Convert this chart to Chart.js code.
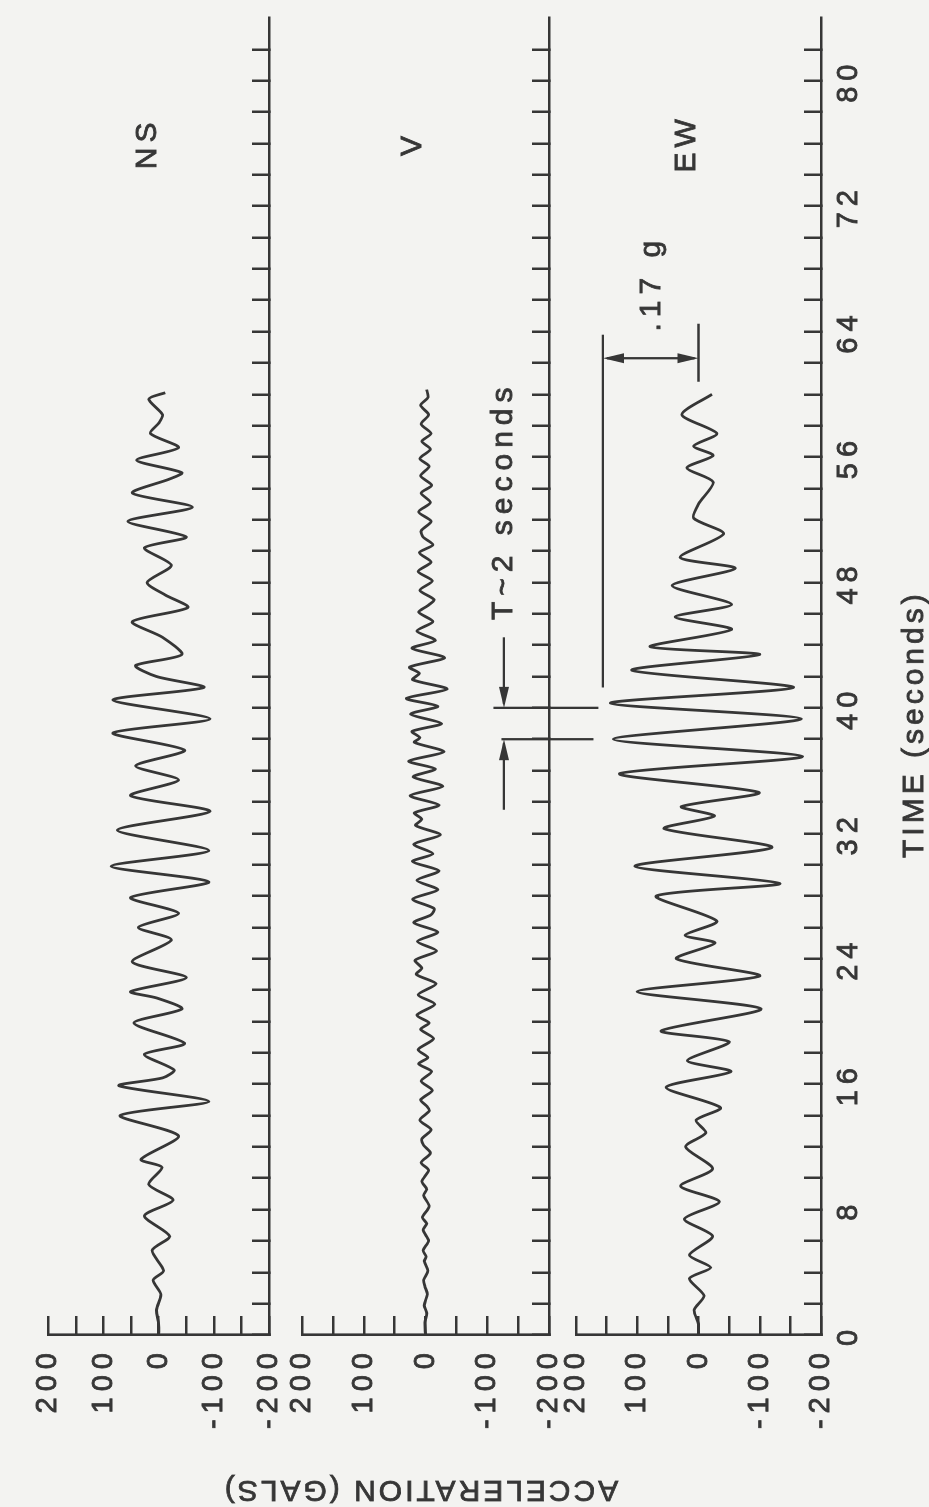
<!DOCTYPE html>
<html>
<head>
<meta charset="utf-8">
<script src="https://cdn.jsdelivr.net/npm/chart.js@4.4.1/dist/chart.umd.min.js"></script>
<style>
  html, body { margin: 0; padding: 0; width: 929px; height: 1507px; overflow: hidden; background: #f3f3f1; }
  #wrap { position: absolute; left: 0; top: 0; width: 1507px; height: 929px;
          transform-origin: 0 0; transform: translate(0, 1507px) rotate(-90deg); background: #f3f3f1; }
  #wrap canvas { position: absolute; left: 0; top: 0; }
</style>
</head>
<body>
<div id="wrap">
  <canvas id="cNS" width="1507" height="929"></canvas>
  <canvas id="cV" width="1507" height="929"></canvas>
  <canvas id="cEW" width="1507" height="929"></canvas>
</div>
<script>
// ---------------- DATA ----------------
const panelNames = ['NS', 'V', 'EW'];
const timeTickLabels = [0, 8, 16, 24, 32, 40, 48, 56, 64, 72, 80];
const accelTickLabels = [200, 100, 0, -100, -200];

const nsTime = [0.0, 0.7, 1.6, 2.6, 3.5, 4.1, 5.4, 6.3, 7.6, 8.6, 9.6, 10.7, 11.2, 12.7, 14.0, 14.9, 15.9, 16.4, 16.9, 17.9,
  18.6, 19.9, 20.8, 21.5, 21.9, 22.8, 23.8, 25.2, 26.0, 26.9, 27.9, 28.9, 29.9, 30.9, 32.2, 33.4, 34.4, 35.4, 36.3, 37.3,
  38.4, 39.3, 40.5, 41.3, 42.0, 42.7, 43.4, 44.5, 45.5, 46.4, 47.2, 48.0, 49.1, 50.2, 50.9, 51.9, 52.8, 53.7, 54.6, 55.0,
  55.8, 56.6, 57.5, 58.2, 58.7, 59.7, 60.1];
const nsAccel = [0, 0, 4, -4, 10, -9, 12, -20, 26, -26, 18, -6, 32, -36, 70, -91, 72, -7, -28, 26,
  -47, 45, -42, 4, 51, -50, 48, -23, 37, -36, 51, -91, 86, -91, 75, -93, 51, -36, 42, -47,
  83, -93, 83, -82, 4, 42, -42, -7, 48, -53, -12, 21, -23, 26, -50, 56, -61, 48, -20, -42,
  40, -36, 15, -1, -7, 18, -12];

const vTime = [0.0, 0.8, 1.4, 1.9, 2.6, 3.1, 3.5, 4.1, 4.7, 5.0, 5.4, 6.0, 6.7, 7.1, 7.5, 8.2, 8.9, 9.3, 9.8, 10.5,
  11.0, 11.6, 12.1, 12.5, 13.1, 13.7, 14.3, 14.6, 15.0, 15.6, 16.2, 16.8, 17.3, 17.7, 18.2, 18.9, 19.5, 19.9, 20.4, 21.1,
  21.7, 22.4, 23.0, 23.4, 23.9, 24.5, 25.1, 25.7, 26.3, 26.8, 27.2, 27.8, 28.4, 29.0, 29.6, 30.2, 30.7, 31.3, 31.9, 32.5,
  32.9, 33.3, 33.8, 34.4, 35.0, 35.6, 36.1, 36.6, 37.2, 37.8, 38.1, 38.5, 39.0, 39.6, 40.1, 40.6, 41.2, 41.8, 42.2, 42.6,
  43.2, 43.8, 44.3, 44.9, 45.5, 46.1, 46.5, 46.9, 47.5, 48.1, 48.7, 49.3, 49.9, 50.4, 50.9, 51.3, 51.9, 52.5, 53.1, 53.7,
  54.2, 54.8, 55.4, 55.9, 56.5, 57.0, 57.5, 58.1, 58.7, 59.3, 59.8, 60.3];
const vAccel = [0, 1, -2, 2, -3, 1, 3, -4, 2, -1, 4, -5, 4, -2, 5, -6, 3, -2, 6, -5,
  7, -8, 3, 6, -9, 9, -6, -2, 8, -11, 7, -10, 11, -4, 12, -13, 8, -6, 14, -15,
  12, -17, 15, 6, 17, -18, 13, -20, 19, -9, -14, 21, -20, 14, -22, 21, -12, 19, -24, 16,
  6, 18, -22, 25, -28, 20, -16, 27, -30, 18, 9, 22, -26, 24, -20, 31, -35, 21, 10, 26,
  -31, 22, -16, 14, -12, 11, -3, -14, 9, -11, 12, -9, 10, -12, 4, 7, -9, 11, -8, 7,
  -10, 8, -6, 9, -8, 6, -9, 7, -5, 8, -4, -2];

const ewTime = [0.0, 0.7, 1.6, 2.5, 3.6, 4.3, 5.1, 6.3, 7.4, 8.5, 9.5, 10.6, 12.0, 12.9, 13.7, 14.5, 15.8, 16.8, 17.5, 18.7,
  19.4, 20.8, 21.9, 22.9, 24.0, 25.0, 25.5, 26.4, 28.0, 28.8, 29.9, 31.1, 32.3, 33.1, 33.7, 34.6, 35.8, 36.9, 38.0, 39.3,
  40.3, 41.3, 42.4, 43.4, 43.9, 45.0, 45.8, 46.6, 47.8, 48.9, 49.6, 51.1, 52.1, 53.0, 54.4, 55.3, 56.1, 56.7, 57.5, 58.7,
  60.0];
const ewAccel = [0, 0, 7, -9, 15, -20, 15, -23, 23, -34, 29, -23, 21, -12, 4, -36, 53, -53, 18, -50,
  61, -102, 100, -100, 36, -27, 22, -30, 69, -133, 104, -120, 56, -26, 28, -99, 129, -170, 139, -168,
  144, -155, 109, -100, 79, -54, 38, -54, 43, -60, 30, -41, 8, 0, -24, 19, -24, 8, -30, 27,
  -22];

// annotation values (data units)
const periodMarks = [38, 40];     // seconds, "T~2 seconds"
const gMarkAccel = 156;           // gals, ".17 g" bracket level on EW

// ---------------- LAYOUT / STYLE ----------------
const W = 1507, H = 929;
const PLOT_LEFT = 172, PLOT_RIGHT = 1489;
const BANDS = [[23, 269], [302, 549], [576, 821]];
const Y_AXIS_W = 100, X_AXIS_H = 50;
const INK = '#363636';
const FONT = '"Liberation Sans", Arial, Helvetica, sans-serif';
const charts = {};

function txt(ctx, s, x, y, o) {
  o = o || {};
  ctx.save();
  ctx.translate(x, y);
  if (o.rot) ctx.rotate(o.rot);
  ctx.font = (o.size || 29) + 'px ' + FONT;
  try { ctx.letterSpacing = (o.ls == null ? 6 : o.ls) + 'px'; } catch (e) {}
  ctx.fillStyle = INK; ctx.strokeStyle = INK; ctx.lineWidth = 0.8;
  ctx.textAlign = o.align || 'left';
  ctx.textBaseline = 'middle';
  ctx.strokeText(s, 0, 0);
  ctx.fillText(s, 0, 0);
  ctx.restore();
}
function line(ctx, x1, y1, x2, y2, w) {
  ctx.save();
  ctx.strokeStyle = INK; ctx.lineWidth = w || 2.3;
  ctx.beginPath(); ctx.moveTo(x1, y1); ctx.lineTo(x2, y2); ctx.stroke();
  ctx.restore();
}
function head(ctx, x, y, dx, dy) {
  const L = 21, hw = 5;
  const px = -dy, py = dx;
  ctx.save();
  ctx.fillStyle = INK;
  ctx.beginPath();
  ctx.moveTo(x, y);
  ctx.lineTo(x - dx * L + px * hw, y - dy * L + py * hw);
  ctx.lineTo(x - dx * L - px * hw, y - dy * L - py * hw);
  ctx.closePath(); ctx.fill();
  ctx.restore();
}

const spacingPlugin = {
  id: 'spacing',
  beforeDraw(chart) { try { chart.ctx.letterSpacing = '6px'; } catch (e) {} }
};
const panelLabelPlugin = {
  id: 'panelLabel',
  afterDraw(chart) {
    const name = chart.options.plugins.panelLabel.name;
    const x = chart.scales.x.getPixelForValue(76);
    const y = chart.scales.y.getPixelForValue(20);
    txt(chart.ctx, name, x, y, { align: 'center', size: 30, ls: 5 });
  }
};
const annotationPlugin = {
  id: 'annot',
  afterDraw(chart) {
    const ctx = chart.ctx;
    const xs = chart.scales.x, ewY = chart.scales.y;
    const vY = charts.V.scales.y;
    // T ~ 2 seconds markers
    const x40 = xs.getPixelForValue(periodMarks[1]);
    const x38 = xs.getPixelForValue(periodMarks[0]);
    line(ctx, x40, vY.getPixelForValue(-110), x40, vY.getPixelForValue(-280));
    line(ctx, x38, vY.getPixelForValue(-123), x38, vY.getPixelForValue(-272));
    const ya = vY.getPixelForValue(-127);
    line(ctx, xs.getPixelForValue(44.5), ya, x40 + 4, ya);
    head(ctx, x40, ya, -1, 0);
    line(ctx, xs.getPixelForValue(33.5), ya, x38 - 4, ya);
    head(ctx, x38, ya, 1, 0);
    txt(ctx, 'T~2 seconds', xs.getPixelForValue(45.6), ya, { size: 30, ls: 6 });
    // .17 g bracket
    const yTop = ewY.getPixelForValue(gMarkAccel), yZero = ewY.getPixelForValue(0);
    line(ctx, xs.getPixelForValue(41.3), yTop, xs.getPixelForValue(63.8), yTop);
    line(ctx, xs.getPixelForValue(60.8), yZero, xs.getPixelForValue(64.5), yZero);
    const xb = xs.getPixelForValue(62.3);
    line(ctx, xb, yTop + 4, xb, yZero - 4);
    head(ctx, xb, yTop, 0, -1);
    head(ctx, xb, yZero, 0, 1);
    txt(ctx, '.17 g', xs.getPixelForValue(64.0), ewY.getPixelForValue(76), { size: 30, ls: 6 });
    // axis titles
    txt(ctx, 'TIME (seconds)', 649, 915, { size: 30, ls: 4 });
    txt(ctx, 'ACCELERATION (GALS)', 18, 420, { size: 30, ls: 3, align: 'center', rot: -Math.PI / 2 });
  }
};

function makeChart(id, idx, times, accel, showTimeLabels, extra) {
  const top = BANDS[idx][0], bottom = BANDS[idx][1];
  return new Chart(document.getElementById(id), {
    type: 'line',
    data: {
      datasets: [{
        data: times.map((t, i) => ({ x: t, y: accel[i] })),
        borderColor: INK, borderWidth: 2.8, pointRadius: 0, tension: 0.25, fill: false
      }]
    },
    options: {
      responsive: false, animation: false, devicePixelRatio: 1, events: [],
      layout: { padding: { left: PLOT_LEFT - Y_AXIS_W, right: W - PLOT_RIGHT, top: top, bottom: H - bottom - X_AXIS_H } },
      plugins: { legend: { display: false }, tooltip: { enabled: false }, title: { display: false },
                 panelLabel: { name: panelNames[idx] } },
      scales: {
        x: {
          type: 'linear', min: 0, max: 84,
          afterBuildTicks: s => { s.ticks = s.ticks.filter(t => t.value <= 82); },
          afterFit: s => { s.height = X_AXIS_H; },
          ticks: { stepSize: 2, autoSkip: false, maxRotation: 0, minRotation: 0, display: showTimeLabels,
                   padding: 28, color: INK, font: { family: FONT, size: 29 },
                   textStrokeColor: INK, textStrokeWidth: 0.8,
                   callback: v => timeTickLabels.includes(v) ? String(v) : '' },
          grid: { drawOnChartArea: false, drawTicks: true, tickLength: -17, lineWidth: 2.5, color: INK },
          border: { display: true, width: 2.6, color: INK }
        },
        y: {
          type: 'linear', min: -200, max: 200,
          afterFit: s => { s.width = Y_AXIS_W; },
          ticks: { stepSize: 50, autoSkip: false, padding: 31, color: INK, font: { family: FONT, size: 29 },
                   textStrokeColor: INK, textStrokeWidth: 0.8,
                   callback: v => accelTickLabels.includes(v) ? String(v) : '' },
          grid: { drawOnChartArea: false, drawTicks: true, tickLength: -19, lineWidth: 2.5, color: INK },
          border: { display: true, width: 2.6, color: INK }
        }
      }
    },
    plugins: [spacingPlugin, panelLabelPlugin].concat(extra || [])
  });
}

charts.NS = makeChart('cNS', 0, nsTime, nsAccel, false);
charts.V = makeChart('cV', 1, vTime, vAccel, false);
charts.EW = makeChart('cEW', 2, ewTime, ewAccel, true, [annotationPlugin]);
</script>
</body>
</html>
